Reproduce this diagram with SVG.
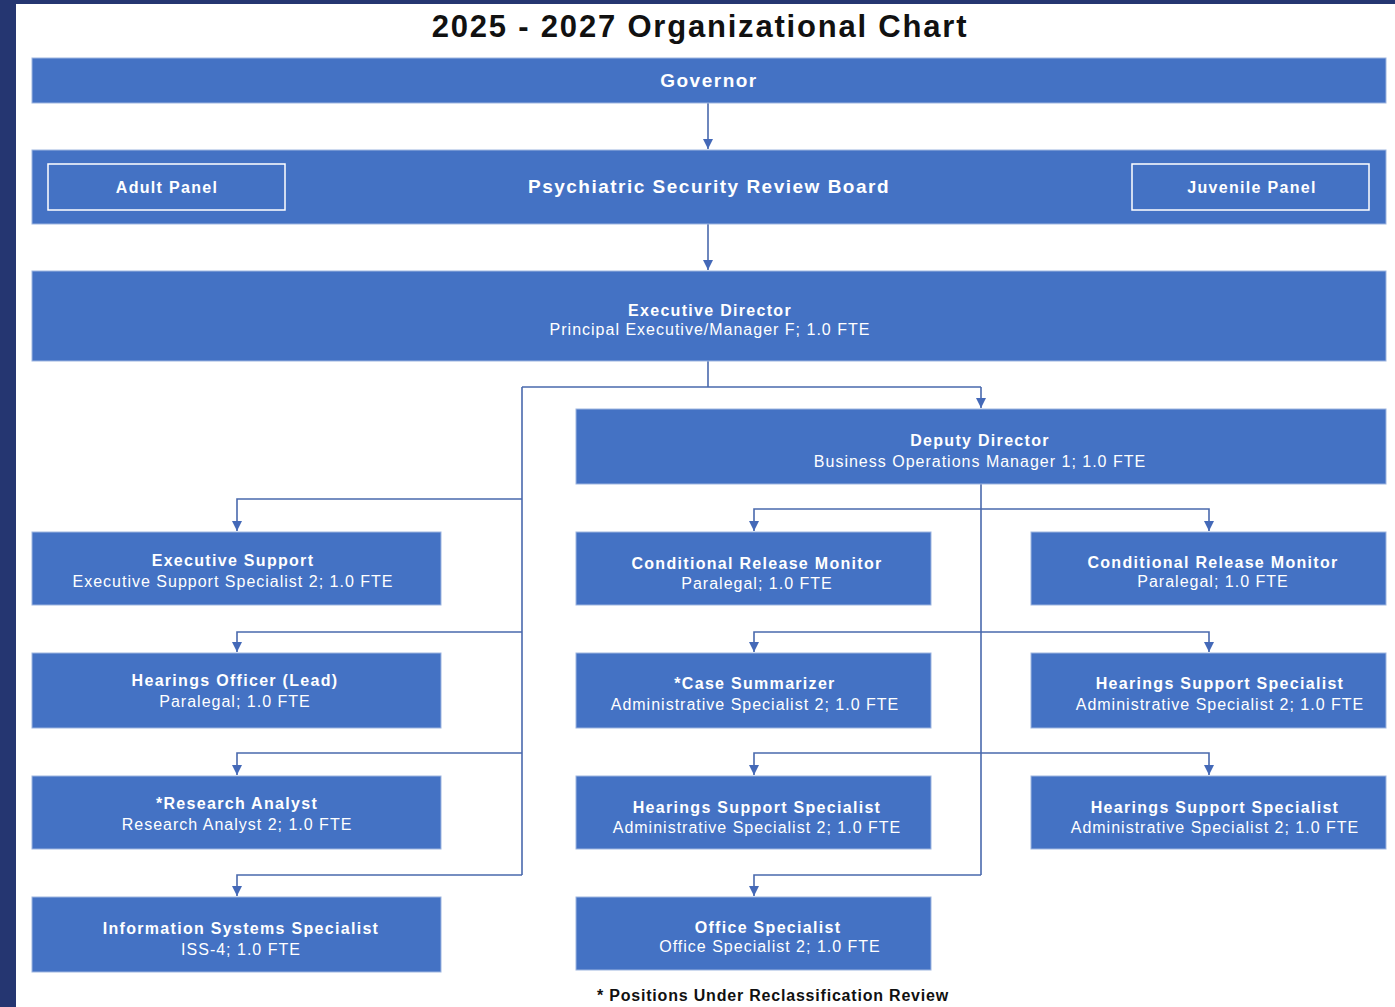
<svg xmlns="http://www.w3.org/2000/svg" width="1395" height="1007" viewBox="0 0 1395 1007">
<defs>
<marker id="arr" viewBox="0 0 10 10" refX="10" refY="5" markerWidth="10" markerHeight="10" markerUnits="userSpaceOnUse" orient="auto">
<path d="M0,0 L10,5 L0,10 z" fill="#4469b8"/>
</marker>
<style>
.box{fill:#4472C4;stroke:#9db5e0;stroke-width:1}
.panel{fill:none;stroke:#ffffff;stroke-width:1.5}
.t{font-family:"Liberation Sans",Arial,sans-serif;font-size:16px;fill:#ffffff;text-anchor:middle;letter-spacing:1px}
.b{font-weight:bold;letter-spacing:1.3px}
.big{font-size:19px;letter-spacing:1.5px}
.c{fill:none;stroke:#4a69ad;stroke-width:1.6}
.ca{fill:none;stroke:#4a69ad;stroke-width:1.6;marker-end:url(#arr)}
</style>
</defs>
<rect x="0" y="0" width="1395" height="1007" fill="#253671"/>
<rect x="16" y="4" width="1379" height="1003" fill="#ffffff"/>
<text x="700" y="37" font-family="Liberation Sans,Arial,sans-serif" font-size="31" font-weight="bold" fill="#111" text-anchor="middle" letter-spacing="1.8">2025 - 2027 Organizational Chart</text>

<g id="connectors">
<path class="ca" d="M708,103 V149"/>
<path class="ca" d="M708,224 V270"/>
<path class="c" d="M708,361 V387 M522,387 H981 M522,387 V875"/>
<path class="ca" d="M981,387 V408"/>
<path class="ca" d="M522,499 H237 V531"/>
<path class="ca" d="M522,632 H237 V652"/>
<path class="ca" d="M522,753 H237 V775"/>
<path class="ca" d="M522,875 H237 V896"/>
<path class="c" d="M981,484 V875"/>
<path class="ca" d="M981,509 H754 V531"/>
<path class="ca" d="M981,509 H1209 V531"/>
<path class="ca" d="M981,632 H754 V652"/>
<path class="ca" d="M981,632 H1209 V652"/>
<path class="ca" d="M981,753 H754 V775"/>
<path class="ca" d="M981,753 H1209 V775"/>
<path class="ca" d="M981,875 H754 V896"/>
</g>

<g id="governor"><rect class="box" x="32" y="58" width="1354" height="45"/><text class="t b big" x="709" y="87">Governor</text></g>
<g id="psrb"><rect class="box" x="32" y="150" width="1354" height="74"/><text class="t b big" x="709" y="193">Psychiatric Security Review Board</text></g>
<g id="adult-panel"><rect class="panel" x="48" y="164" width="237" height="46"/><text class="t b" x="167" y="193">Adult Panel</text></g>
<g id="juvenile-panel"><rect class="panel" x="1132" y="164" width="237" height="46"/><text class="t b" x="1252" y="193">Juvenile Panel</text></g>
<g id="exec-director"><rect class="box" x="32" y="271" width="1354" height="90"/><text class="t b" x="710" y="316">Executive Director</text><text class="t" x="710" y="335">Principal Executive/Manager F; 1.0 FTE</text></g>
<g id="deputy-director"><rect class="box" x="576" y="409" width="810" height="75"/><text class="t b" x="980" y="446">Deputy Director</text><text class="t" x="980" y="467">Business Operations Manager 1; 1.0 FTE</text></g>

<g id="exec-support"><rect class="box" x="32" y="532" width="409" height="73"/><text class="t b" x="233" y="566">Executive Support</text><text class="t" x="233" y="587">Executive Support Specialist 2; 1.0 FTE</text></g>
<g id="hearings-officer"><rect class="box" x="32" y="653" width="409" height="75"/><text class="t b" x="235" y="686">Hearings Officer (Lead)</text><text class="t" x="235" y="707">Paralegal; 1.0 FTE</text></g>
<g id="research-analyst"><rect class="box" x="32" y="776" width="409" height="73"/><text class="t b" x="237" y="809">*Research Analyst</text><text class="t" x="237" y="830">Research Analyst 2; 1.0 FTE</text></g>
<g id="iss"><rect class="box" x="32" y="897" width="409" height="75"/><text class="t b" x="241" y="934">Information Systems Specialist</text><text class="t" x="241" y="955">ISS-4; 1.0 FTE</text></g>

<g id="crm-1"><rect class="box" x="576" y="532" width="355" height="73"/><text class="t b" x="757" y="569">Conditional Release Monitor</text><text class="t" x="757" y="589">Paralegal; 1.0 FTE</text></g>
<g id="case-summarizer"><rect class="box" x="576" y="653" width="355" height="75"/><text class="t b" x="755" y="689">*Case Summarizer</text><text class="t" x="755" y="710">Administrative Specialist 2; 1.0 FTE</text></g>
<g id="hss-1"><rect class="box" x="576" y="776" width="355" height="73"/><text class="t b" x="757" y="813">Hearings Support Specialist</text><text class="t" x="757" y="833">Administrative Specialist 2; 1.0 FTE</text></g>
<g id="office-specialist"><rect class="box" x="576" y="897" width="355" height="73"/><text class="t b" x="768" y="933">Office Specialist</text><text class="t" x="770" y="952">Office Specialist 2; 1.0 FTE</text></g>

<g id="crm-2"><rect class="box" x="1031" y="532" width="355" height="73"/><text class="t b" x="1213" y="568">Conditional Release Monitor</text><text class="t" x="1213" y="587">Paralegal; 1.0 FTE</text></g>
<g id="hss-2"><rect class="box" x="1031" y="653" width="355" height="75"/><text class="t b" x="1220" y="689">Hearings Support Specialist</text><text class="t" x="1220" y="710">Administrative Specialist 2; 1.0 FTE</text></g>
<g id="hss-3"><rect class="box" x="1031" y="776" width="355" height="73"/><text class="t b" x="1215" y="813">Hearings Support Specialist</text><text class="t" x="1215" y="833">Administrative Specialist 2; 1.0 FTE</text></g>

<text x="773" y="1001" font-family="Liberation Sans,Arial,sans-serif" font-size="16" font-weight="bold" fill="#111" text-anchor="middle" letter-spacing="0.8">* Positions Under Reclassification Review</text>
</svg>
